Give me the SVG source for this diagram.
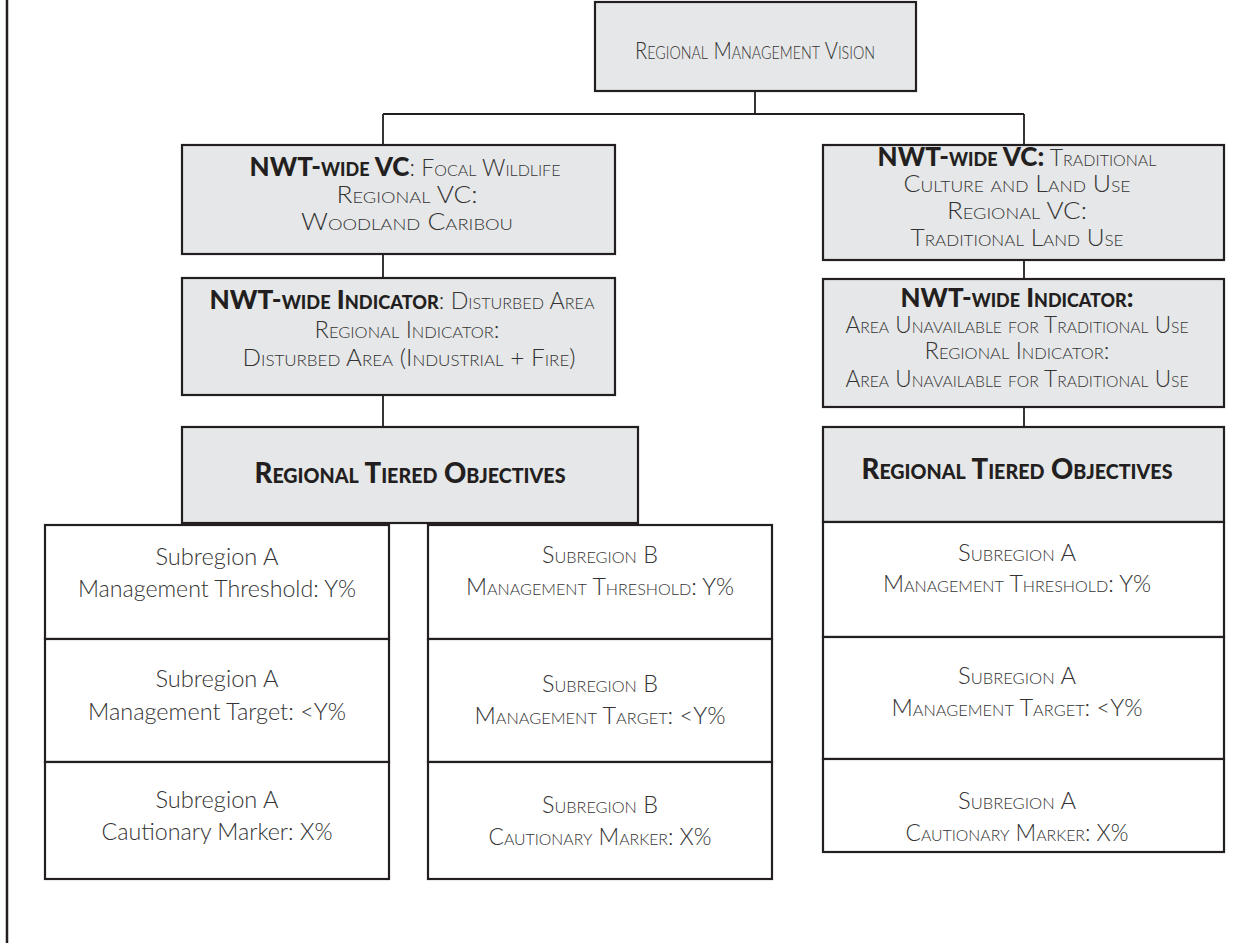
<svg xmlns="http://www.w3.org/2000/svg" width="1251" height="943" viewBox="0 0 1251 943">
  <style>
    .box { fill: #e6e7e8; stroke: #231f20; stroke-width: 2.2; }
    .cell { fill: #ffffff; stroke: #231f20; stroke-width: 2.2; }
    .wire { fill: none; stroke: #231f20; stroke-width: 1.8; }
    text { font-family: "Lato", "Open Sans", "Liberation Sans", sans-serif; fill: #333333; text-anchor: middle; font-weight: 300; }
    .sc { font-variant: small-caps; font-size: 23px; }
    .plain { font-size: 23px; }
    .b { font-weight: 900; fill: #231f20; font-size: 26px; }
    .head { font-variant: small-caps; font-weight: 900; fill: #231f20; font-size: 28px; }
    .title { font-variant: small-caps; font-size: 24px; }
  </style>

  <!-- page edge rule -->
  <line x1="7" y1="0" x2="7" y2="943" stroke="#231f20" stroke-width="2.5"/>

  <!-- connectors -->
  <g id="connectors">
    <path class="wire" d="M755 91 V114 M383 114 H1024 M383 114 V145 M1024 114 V145"/>
    <path class="wire" d="M383 254 V278 M383 395 V427"/>
    <path class="wire" d="M1024 260 V279 M1024 407 V427"/>
  </g>

  <g id="vision">
    <rect class="box" x="595" y="2" width="321" height="89"/>
    <text class="title" x="755" y="59" textLength="240" lengthAdjust="spacingAndGlyphs">Regional Management Vision</text>
  </g>

  <g id="vc-left">
    <rect class="box" x="182" y="145" width="433" height="109"/>
    <text class="sc" x="405" y="176"><tspan class="b">NWT-wide VC</tspan>: Focal Wildlife</text>
    <text class="sc" x="407" y="203" textLength="141" lengthAdjust="spacingAndGlyphs">Regional VC:</text>
    <text class="sc" x="407" y="230" textLength="212" lengthAdjust="spacingAndGlyphs">Woodland Caribou</text>
  </g>

  <g id="indicator-left">
    <rect class="box" x="182" y="278" width="433" height="117"/>
    <text class="sc" x="402" y="309" textLength="385" lengthAdjust="spacingAndGlyphs"><tspan class="b">NWT-wide Indicator</tspan>: Disturbed Area</text>
    <text class="sc" x="407" y="338" textLength="185" lengthAdjust="spacingAndGlyphs">Regional Indicator:</text>
    <text class="sc" x="409" y="366" textLength="333" lengthAdjust="spacingAndGlyphs">Disturbed Area (Industrial + Fire)</text>
  </g>

  <g id="objectives-left">
    <rect class="box" x="182" y="427" width="456" height="96"/>
    <text class="head" x="410" y="483" textLength="311" lengthAdjust="spacingAndGlyphs">Regional Tiered Objectives</text>
  </g>

  <g id="subregion-a-left">
    <rect class="cell" x="45" y="525" width="344" height="114"/>
    <text class="plain" x="217" y="565" textLength="123" lengthAdjust="spacingAndGlyphs">Subregion A</text>
    <text class="plain" x="217" y="597" textLength="278" lengthAdjust="spacingAndGlyphs">Management Threshold: Y%</text>
    <rect class="cell" x="45" y="639" width="344" height="123"/>
    <text class="plain" x="217" y="687" textLength="123" lengthAdjust="spacingAndGlyphs">Subregion A</text>
    <text class="plain" x="217" y="720" textLength="258" lengthAdjust="spacingAndGlyphs">Management Target: &lt;Y%</text>
    <rect class="cell" x="45" y="762" width="344" height="117"/>
    <text class="plain" x="217" y="808" textLength="123" lengthAdjust="spacingAndGlyphs">Subregion A</text>
    <text class="plain" x="217" y="840" textLength="231" lengthAdjust="spacingAndGlyphs">Cautionary Marker: X%</text>
  </g>

  <g id="subregion-b">
    <rect class="cell" x="428" y="525" width="344" height="114"/>
    <text class="sc" x="600" y="563" textLength="116" lengthAdjust="spacingAndGlyphs">Subregion B</text>
    <text class="sc" x="600" y="595" textLength="268" lengthAdjust="spacingAndGlyphs">Management Threshold: Y%</text>
    <rect class="cell" x="428" y="639" width="344" height="123"/>
    <text class="sc" x="600" y="692" textLength="116" lengthAdjust="spacingAndGlyphs">Subregion B</text>
    <text class="sc" x="600" y="724" textLength="251" lengthAdjust="spacingAndGlyphs">Management Target: &lt;Y%</text>
    <rect class="cell" x="428" y="762" width="344" height="117"/>
    <text class="sc" x="600" y="813" textLength="116" lengthAdjust="spacingAndGlyphs">Subregion B</text>
    <text class="sc" x="600" y="845" textLength="223" lengthAdjust="spacingAndGlyphs">Cautionary Marker: X%</text>
  </g>

  <g id="vc-right">
    <rect class="box" x="823" y="145" width="401" height="115"/>
    <text class="sc" x="1017" y="166"><tspan class="b">NWT-wide VC:</tspan> Traditional</text>
    <text class="sc" x="1017" y="192" textLength="227" lengthAdjust="spacingAndGlyphs">Culture and Land Use</text>
    <text class="sc" x="1017" y="219" textLength="140" lengthAdjust="spacingAndGlyphs">Regional VC:</text>
    <text class="sc" x="1017" y="246" textLength="213" lengthAdjust="spacingAndGlyphs">Traditional Land Use</text>
  </g>

  <g id="indicator-right">
    <rect class="box" x="823" y="279" width="401" height="128"/>
    <text class="sc b" x="1017" y="307" textLength="233" lengthAdjust="spacingAndGlyphs">NWT-wide Indicator:</text>
    <text class="sc" x="1017" y="333" textLength="343" lengthAdjust="spacingAndGlyphs">Area Unavailable for Traditional Use</text>
    <text class="sc" x="1017" y="359" textLength="185" lengthAdjust="spacingAndGlyphs">Regional Indicator:</text>
    <text class="sc" x="1017" y="387" textLength="343" lengthAdjust="spacingAndGlyphs">Area Unavailable for Traditional Use</text>
  </g>

  <g id="objectives-right">
    <rect class="box" x="823" y="427" width="401" height="95"/>
    <text class="head" x="1017" y="479" textLength="311" lengthAdjust="spacingAndGlyphs">Regional Tiered Objectives</text>
  </g>

  <g id="subregion-a-right">
    <rect class="cell" x="823" y="522" width="401" height="115"/>
    <text class="sc" x="1017" y="561" textLength="118" lengthAdjust="spacingAndGlyphs">Subregion A</text>
    <text class="sc" x="1017" y="592" textLength="268" lengthAdjust="spacingAndGlyphs">Management Threshold: Y%</text>
    <rect class="cell" x="823" y="637" width="401" height="122"/>
    <text class="sc" x="1017" y="684" textLength="118" lengthAdjust="spacingAndGlyphs">Subregion A</text>
    <text class="sc" x="1017" y="716" textLength="251" lengthAdjust="spacingAndGlyphs">Management Target: &lt;Y%</text>
    <rect class="cell" x="823" y="759" width="401" height="93"/>
    <text class="sc" x="1017" y="809" textLength="118" lengthAdjust="spacingAndGlyphs">Subregion A</text>
    <text class="sc" x="1017" y="841" textLength="223" lengthAdjust="spacingAndGlyphs">Cautionary Marker: X%</text>
  </g>
</svg>
